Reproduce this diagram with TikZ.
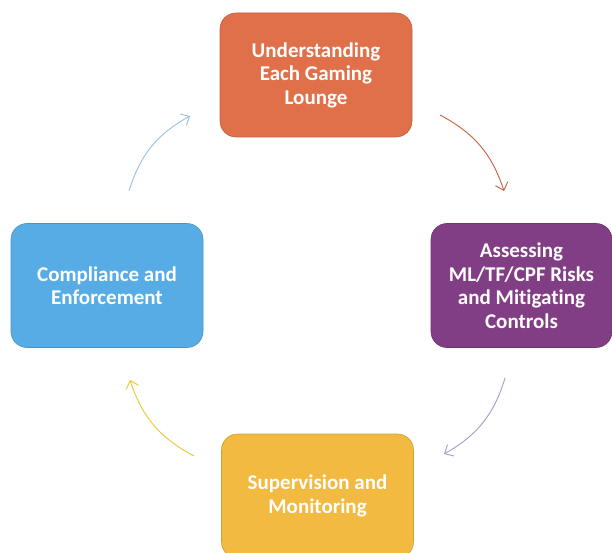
\documentclass[tikz,border=0pt]{standalone}
\usepackage{fontspec}
\setmainfont{Carlito}[Ligatures=NoCommon]
\usetikzlibrary{arrows.meta}
\definecolor{orangebox}{RGB}{224,112,74}
\definecolor{purplebox}{RGB}{130,62,132}
\definecolor{bluebox}{RGB}{88,172,230}
\definecolor{yellowbox}{RGB}{242,186,64}
\definecolor{orangearrow}{RGB}{196,96,62}
\definecolor{purplearrow}{RGB}{160,160,196}
\definecolor{yellowarrow}{RGB}{240,196,40}
\definecolor{bluearrow}{RGB}{150,192,232}
\begin{document}
\begin{tikzpicture}[x=1pt,y=-1pt,
  stagebox/.style={rounded corners=16pt, minimum width=192pt, minimum height=124pt,
    inner sep=0pt, align=center, text=white,
    font=\fontsize{21}{23.5}\selectfont\bfseries,
    draw=#1!85!black, fill=#1, line width=0.6pt},
  cycarrow/.style={draw=#1, line width=0.9pt,
    -{Straight Barb[length=7pt,width=13pt]}, bend left=22}]
\useasboundingbox (0,0) rectangle (612,553);
\clip (0,0) rectangle (612,553);
\fill[white] (0,0) rectangle (612,553);

% the four stages of the cycle
\node[stagebox=orangebox] (under) at (316,75) {Understanding\\Each Gaming\\Lounge};
\node[stagebox=purplebox, minimum width=181pt] (assess) at (521.5,285.5)
  {Assessing\\ML/TF/CPF Risks\\and Mitigating\\Controls};
\node[stagebox=yellowbox] (super) at (317.5,496) {Supervision and\\Monitoring};
\node[stagebox=bluebox] (comp) at (107,285.5) {Compliance and\\Enforcement};

% free ends of the curved connectors
\coordinate (a1s) at (440,115); \coordinate (a1e) at (504,191);
\coordinate (a2s) at (505,378); \coordinate (a2e) at (444,454);
\coordinate (a3s) at (194,456); \coordinate (a3e) at (130,380);
\coordinate (a4s) at (129,191); \coordinate (a4e) at (190,116);

\draw[cycarrow=orangearrow] (a1s) to (a1e);
\draw[cycarrow=purplearrow] (a2s) to (a2e);
\draw[cycarrow=yellowarrow] (a3s) to (a3e);
\draw[cycarrow=bluearrow] (a4s) to (a4e);
\end{tikzpicture}
\end{document}
